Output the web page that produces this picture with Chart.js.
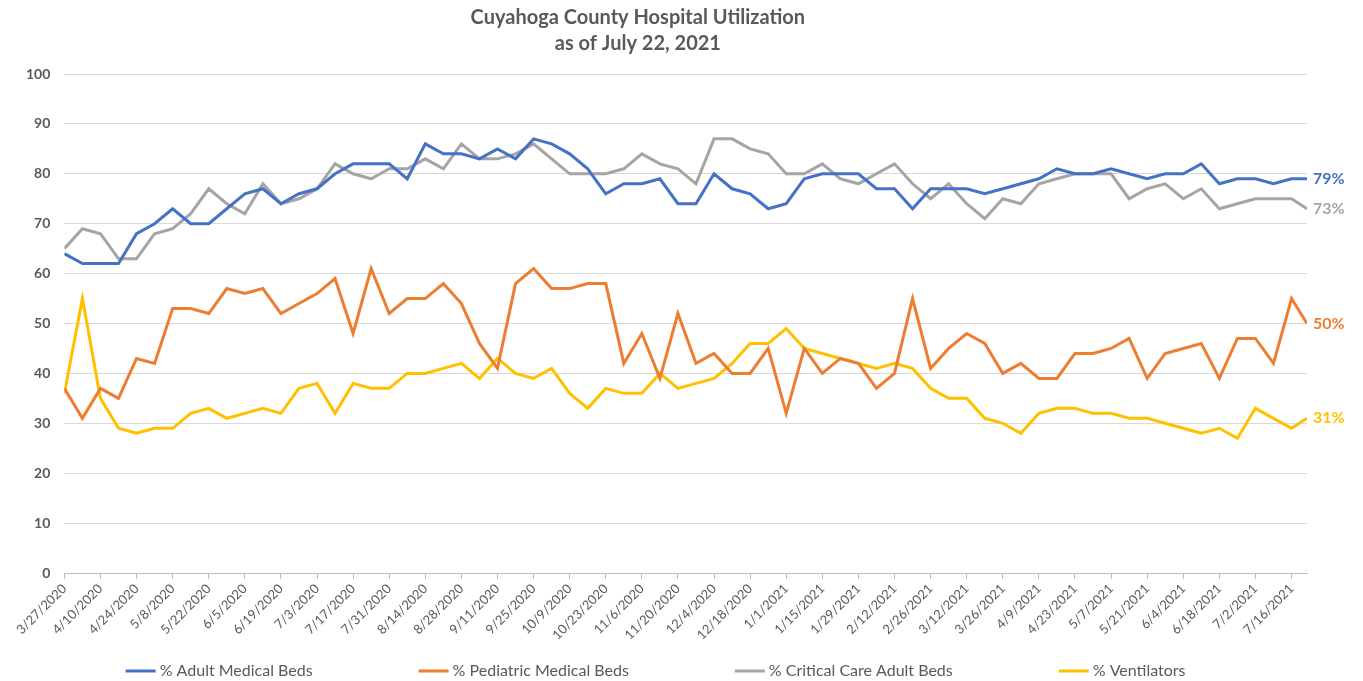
<!DOCTYPE html>
<html>
<head>
<meta charset="utf-8">
<script src="https://cdn.jsdelivr.net/npm/chart.js@4/dist/chart.umd.min.js"></script>
<style>
  html, body { margin: 0; padding: 0; background: #fff; }
  #wrap { width: 1363px; height: 681px; position: relative; }
</style>
</head>
<body>
<div id="wrap"><canvas id="utilChart"></canvas></div>
<script>
// weekly report dates (last one is the 7/22 update)
var dates = [
  '3/27/2020','4/3/2020','4/10/2020','4/17/2020','4/24/2020','5/1/2020','5/8/2020','5/15/2020','5/22/2020','5/29/2020',
  '6/5/2020','6/12/2020','6/19/2020','6/26/2020','7/3/2020','7/10/2020','7/17/2020','7/24/2020','7/31/2020','8/7/2020',
  '8/14/2020','8/21/2020','8/28/2020','9/4/2020','9/11/2020','9/18/2020','9/25/2020','10/2/2020','10/9/2020','10/16/2020',
  '10/23/2020','10/30/2020','11/6/2020','11/13/2020','11/20/2020','11/27/2020','12/4/2020','12/11/2020','12/18/2020','12/25/2020',
  '1/1/2021','1/8/2021','1/15/2021','1/22/2021','1/29/2021','2/5/2021','2/12/2021','2/19/2021','2/26/2021','3/5/2021',
  '3/12/2021','3/19/2021','3/26/2021','4/2/2021','4/9/2021','4/16/2021','4/23/2021','4/30/2021','5/7/2021','5/14/2021',
  '5/21/2021','5/28/2021','6/4/2021','6/11/2021','6/18/2021','6/25/2021','7/2/2021','7/9/2021','7/16/2021','7/22/2021'
];

var tickLabels = [
  '3/27/2020','4/10/2020','4/24/2020','5/8/2020','5/22/2020','6/5/2020','6/19/2020','7/3/2020','7/17/2020','7/31/2020',
  '8/14/2020','8/28/2020','9/11/2020','9/25/2020','10/9/2020','10/23/2020','11/6/2020','11/20/2020','12/4/2020','12/18/2020',
  '1/1/2021','1/15/2021','1/29/2021','2/12/2021','2/26/2021','3/12/2021','3/26/2021','4/9/2021','4/23/2021','5/7/2021',
  '5/21/2021','6/4/2021','6/18/2021','7/2/2021','7/16/2021'
];

var adultBeds = [
  64,62,62,62,68,70,73,70,70,73, 76,77,74,76,77,80,82,82,82,79,
  86,84,84,83,85,83,87,86,84,81, 76,78,78,79,74,74,80,77,76,73,
  74,79,80,80,80,77,77,73,77,77, 77,76,77,78,79,81,80,80,81,80,
  79,80,80,82,78,79,79,78,79,79
];
var pediatricBeds = [
  37,31,37,35,43,42,53,53,52,57, 56,57,52,54,56,59,48,61,52,55,
  55,58,54,46,41,58,61,57,57,58, 58,42,48,39,52,42,44,40,40,45,
  32,45,40,43,42,37,40,55,41,45, 48,46,40,42,39,39,44,44,45,47,
  39,44,45,46,39,47,47,42,55,50
];
var criticalCare = [
  65,69,68,63,63,68,69,72,77,74, 72,78,74,75,77,82,80,79,81,81,
  83,81,86,83,83,84,86,83,80,80, 80,81,84,82,81,78,87,87,85,84,
  80,80,82,79,78,80,82,78,75,78, 74,71,75,74,78,79,80,80,80,75,
  77,78,75,77,73,74,75,75,75,73
];
var ventilators = [
  36,55,35,29,28,29,29,32,33,31, 32,33,32,37,38,32,38,37,37,40,
  40,41,42,39,43,40,39,41,36,33, 37,36,36,40,37,38,39,42,46,46,
  49,45,44,43,42,41,42,41,37,35, 35,31,30,28,32,33,33,32,32,31,
  31,30,29,28,29,27,33,31,29,31
];

var seriesNames = ['% Adult Medical Beds', '% Pediatric Medical Beds', '% Critical Care Adult Beds', '% Ventilators'];
var seriesColors = ['#4472C4', '#ED7D31', '#A5A5A5', '#FFC000'];

(function(){
  var FONT = 'Lato, "Open Sans", sans-serif';
  var TXT = '#595959';

  function dayNum(s) {
    var p = s.split('/');
    return Date.UTC(+p[2], +p[0] - 1, +p[1]) / 86400000;
  }
  var start = dayNum(dates[0]);
  var xs = dates.map(function(d){ return dayNum(d) - start; });

  function toPoints(arr) {
    return arr.map(function(v, i){ return { x: xs[i], y: v }; });
  }

  var allSeries = [adultBeds, pediatricBeds, criticalCare, ventilators];
  var datasets = allSeries.map(function(arr, i){
    return {
      label: seriesNames[i],
      data: toPoints(arr),
      borderColor: seriesColors[i],
      backgroundColor: seriesColors[i],
      borderWidth: 3,
      pointRadius: 0,
      tension: 0
    };
  });

  // bold % label to the right of the last point of each line
  var endLabels = {
    id: 'endLabels',
    afterDatasetsDraw: function(chart) {
      var ctx = chart.ctx;
      ctx.save();
      ctx.font = 'bold 16px ' + FONT;
      ctx.textAlign = 'left';
      ctx.textBaseline = 'middle';
      chart.data.datasets.forEach(function(ds, i){
        var meta = chart.getDatasetMeta(i);
        var pt = meta.data[meta.data.length - 1];
        var v = ds.data[ds.data.length - 1].y;
        ctx.fillStyle = ds.borderColor;
        ctx.fillText(v + '%', pt.x + 6, pt.y);
      });
      ctx.restore();
    }
  };

  // two-line title + wide-spaced legend like the Excel original
  var decorations = {
    id: 'decorations',
    afterDraw: function(chart) {
      var ctx = chart.ctx;
      var cx = chart.width * 0.468;
      ctx.save();
      ctx.font = 'bold 20px ' + FONT;
      ctx.fillStyle = TXT;
      ctx.textAlign = 'center';
      ctx.textBaseline = 'middle';
      ctx.fillText('Cuyahoga County Hospital Utilization', cx, 18);
      ctx.fillText('as of July 22, 2021', cx, 44);

      ctx.font = '16px ' + FONT;
      ctx.textAlign = 'left';
      var gap = 106, sw = 30, sp = 4;
      var widths = seriesNames.map(function(n){ return ctx.measureText(n).width; });
      var total = widths.reduce(function(a, w){ return a + sw + sp + w; }, 0) + gap * (seriesNames.length - 1);
      var x = chart.width * 0.481 - total / 2;
      var y = chart.height - 10;
      seriesNames.forEach(function(n, i){
        ctx.strokeStyle = seriesColors[i];
        ctx.lineWidth = 3;
        ctx.beginPath();
        ctx.moveTo(x, y);
        ctx.lineTo(x + sw, y);
        ctx.stroke();
        ctx.fillText(n, x + sw + sp, y);
        x += sw + sp + widths[i] + gap;
      });
      ctx.restore();
    }
  };

  var ctx = document.getElementById('utilChart').getContext('2d');
  new Chart(ctx, {
    type: 'line',
    data: { datasets: datasets },
    plugins: [endLabels, decorations],
    options: {
      responsive: true,
      maintainAspectRatio: false,
      animation: false,
      layout: { padding: { top: 74, right: 56, bottom: 36, left: 12 } },
      plugins: {
        legend: { display: false },
        tooltip: { enabled: false }
      },
      scales: {
        x: {
          type: 'linear',
          min: 0,
          max: xs[xs.length - 1],
          border: { display: true, color: '#BFBFBF' },
          grid: { drawOnChartArea: false, drawTicks: true, tickLength: 6, color: '#BFBFBF' },
          ticks: {
            stepSize: 14,
            includeBounds: false,
            autoSkip: false,
            maxRotation: 45,
            minRotation: 45,
            color: TXT,
            padding: 2,
            font: { family: FONT, size: 13 },
            callback: function(v){ return tickLabels[Math.round(v / 14)]; }
          }
        },
        y: {
          min: 0,
          max: 100,
          border: { display: false },
          grid: { color: '#D9D9D9', drawTicks: false },
          ticks: {
            stepSize: 10,
            color: TXT,
            padding: 14,
            font: { family: FONT, size: 14, weight: 'bold' }
          }
        }
      }
    }
  });
})();
</script>
</body>
</html>
